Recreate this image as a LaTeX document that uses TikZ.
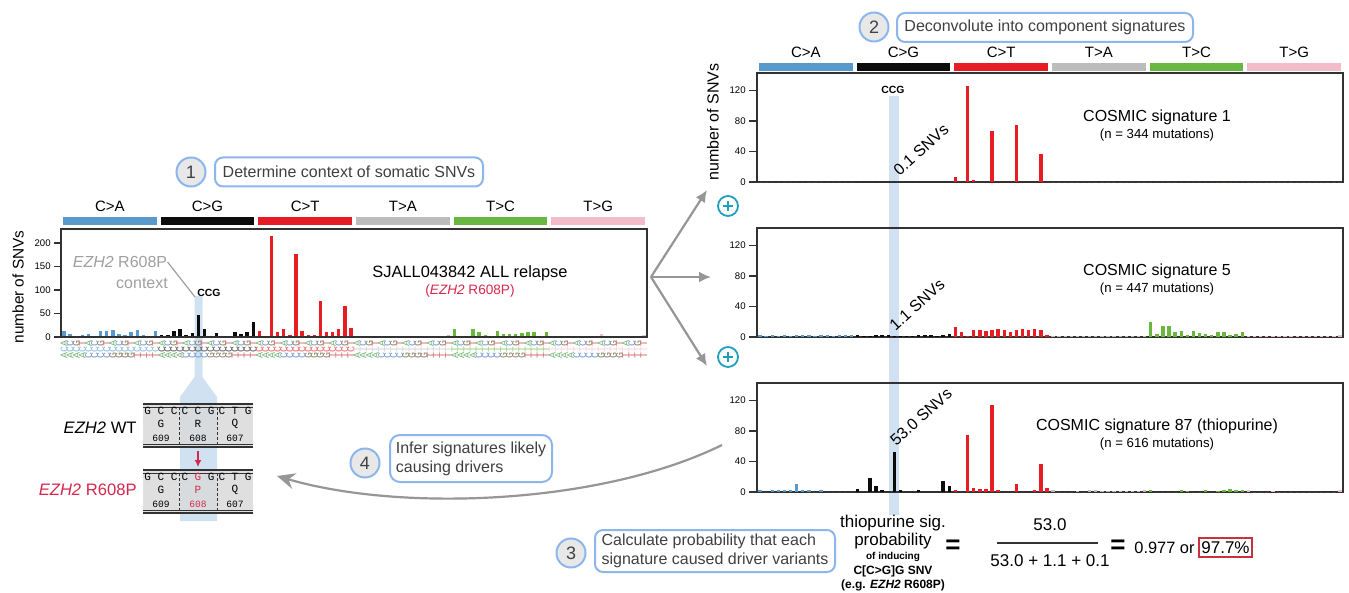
\documentclass[tikz,border=0pt]{standalone}
\usepackage{fontspec}
\setmainfont{Liberation Sans}
\newfontfamily\monof{Liberation Mono}
\usetikzlibrary{arrows.meta}
\definecolor{cat0}{RGB}{88,154,204}
\definecolor{cat1}{RGB}{12,12,12}
\definecolor{cat2}{RGB}{232,28,36}
\definecolor{cat3}{RGB}{188,188,188}
\definecolor{cat4}{RGB}{104,184,64}
\definecolor{cat5}{RGB}{242,188,200}
\definecolor{nt0}{RGB}{60,150,60}
\definecolor{nt1}{RGB}{60,110,190}
\definecolor{nt2}{RGB}{90,80,40}
\definecolor{nt3}{RGB}{200,50,50}
\definecolor{stepblue}{RGB}{140,182,236}
\definecolor{stepgrey}{RGB}{232,232,232}
\definecolor{txtgrey}{RGB}{64,64,64}
\definecolor{bandblue}{RGB}{208,226,241}
\definecolor{mutred}{RGB}{214,40,78}
\definecolor{arrowgrey}{RGB}{150,150,150}
\definecolor{plusteal}{RGB}{32,160,190}
\definecolor{annogrey}{RGB}{160,160,160}
\definecolor{seqgrey}{RGB}{218,218,218}
\definecolor{boxdark}{RGB}{50,50,50}
\definecolor{pctred}{RGB}{200,50,60}
\newcommand\myfs[1]{\fontsize{#1}{#1}\selectfont}
\newcommand\bname[1]{\ifcase#1 A\or C\or G\or T\fi}
% #1 x0, #2 baseline, #3 px per unit, #4 data
\newcommand\drawbars[4]{%
  \foreach \v [count=\i from 0] in {#4}{%
    \pgfmathtruncatemacro\catn{\i/16}%
    \pgfmathsetmacro\xc{#1+(\i+0.5)*6.104}%
    \fill[cat\catn] ({\xc-1.7},{#2}) rectangle ({\xc+1.7},{#2-\v*#3});%
  }}
\newcommand\catbars[2]{% #1 x0, #2 top y
  \foreach \lab [count=\k from 0] in {C>A,C>G,C>T,T>A,T>C,T>G}{%
    \pgfmathsetmacro\xa{#1+\k*97.67+2}%
    \pgfmathsetmacro\xb{#1+(\k+1)*97.67-2}%
    \fill[cat\k] (\xa,#2) rectangle (\xb,#2+8);%
    \node[catlab] (cl#1\k) at ({(\xa+\xb)/2},#2-11) {\lab};%
  }}
\newcommand\sigpanel[3]{% #1 top y, #2 name, #3 data
  \draw[boxline] (757,#1) rectangle (1343,#1+109);
  \foreach \t in {0,40,80,120}{%
    \draw[boxline] (749,{#1+109-\t*0.764}) -- (757,{#1+109-\t*0.764});
    \node[ticklab] (#2t\t) at (746,{#1+109-\t*0.764}) {\t};}
  \drawbars{757}{#1+109}{0.764}{#3}}
\begin{document}
\begin{tikzpicture}[x=0.5pt,y=-0.5pt,
  stepcirc/.style={circle,draw=stepblue,line width=1pt,fill=stepgrey,minimum size=14.5pt,inner sep=0pt,font=\myfs{9},text=txtgrey},
  stepbox/.style={draw=stepblue,line width=1pt,rounded corners=4pt,fill=white,text=txtgrey,font=\fontsize{8}{9.6}\selectfont,inner sep=0pt,align=left},
  catlab/.style={font=\myfs{7.5},inner sep=0pt},
  ticklab/.style={font=\myfs{4.8},anchor=east,inner sep=0pt},
  axislab/.style={font=\myfs{7.7},rotate=90,inner sep=0pt},
  sigtitle/.style={font=\myfs{8},inner sep=0pt},
  sigsub/.style={font=\myfs{6.6},inner sep=0pt},
  snvlab/.style={font=\myfs{8},rotate=42,inner sep=0pt},
  boxline/.style={draw=boxdark,line width=0.75pt},
  grayarrow/.style={draw=arrowgrey,line width=1.1pt,-{Latex[length=6pt,width=5.5pt]}},
  trilab/.style={font=\monof\myfs{5},rotate=90,anchor=east,inner sep=0pt},
  seqtxt/.style={font=\monof\myfs{5.5},inner sep=0pt},
  plain/.style={inner sep=0pt}]
\useasboundingbox (0,0) rectangle (1349,593);
\fill[white] (0,0) rectangle (1349,593);

% ---------------- Step 1 -----------------
\node[stepcirc] (s1) at (191,172) {1};
\node[stepbox,minimum width=134pt,minimum height=14.5pt] (b1) at (349,172) {Determine context of somatic SNVs};

% ---------------- left chart -----------------
\fill[bandblue] (194.5,296) -- (202.5,296) -- (202.5,377) -- (217,397) -- (217,521) -- (180,521) -- (180,397) -- (194.5,377) -- cycle;
\catbars{61}{217}
\drawbars{61}{337}{0.47}{12,6,2,5,6,3,12,12,15,6,5,10,14,5,2,12,
 5,5,13,16,4,8,46,18,1,8,3,1,10,6,10,31,
 12,3,214,10,16,5,177,12,5,4,76,11,11,18,67,19,
 2,1,2,1,2,1,2,1,2,1,1,2,3,2,3,5,
 16,3,2,16,10,5,2,12,6,6,6,8,10,10,2,10,
 3,1,1,1,3,1,1,2,6,2,1,1,2,1,1,5}
\draw[boxline] (61,229) rectangle (647,337);
\foreach \t in {0,50,100,150,200}{%
  \draw[boxline] (54,{337-\t*0.47}) -- (61,{337-\t*0.47});
  \node[ticklab] (lt\t) at (51,{337-\t*0.47}) {\t};}
\node[axislab] (lyl) at (18,287) {number of SNVs};
\foreach \i in {0,...,95}{%
  \pgfmathtruncatemacro\catn{\i/16}%
  \pgfmathtruncatemacro\fb{mod(\i,16)/4}%
  \pgfmathtruncatemacro\tb{mod(\i,4)}%
  \pgfmathsetmacro\xc{61+(\i+0.5)*6.104}%
  \node[trilab] (tri\i) at (\xc,340) {\textcolor{nt\fb!70}{\bname{\fb}}\textcolor{cat\catn!65}{\ifnum\catn<3 C\else T\fi}\textcolor{nt\tb!70}{\bname{\tb}}};}
\node[sigtitle,font=\myfs{8.2}] (ltitle) at (470,273) {SJALL043842 ALL relapse};
\node[plain,font=\myfs{6.8},text=mutred] (lsub) at (470,291) {(\textit{EZH2} R608P)};
\node[plain,font=\myfs{8},text=annogrey] (ezhann) at (120,262) {\textit{EZH2} R608P};
\node[plain,font=\myfs{8},text=annogrey] (ctxann) at (142,283) {context};
\node[plain,font=\bfseries\myfs{5.2}] (lccg) at (209,293) {CCG};
\coordinate (ccgpt) at (195,297);
\draw[annogrey,line width=0.6pt] (ezhann.east) -- (ccgpt);

% ---------------- EZH2 sequences -----------------
\fill[seqgrey,opacity=0.85] (143,404) rectangle (253,447);
\fill[seqgrey,opacity=0.85] (143,470) rectangle (253,513);
\foreach \yt in {404,470}{%
  \draw[boxdark,line width=1pt] (143,\yt) -- (253,\yt);
  \draw[boxdark,line width=0.35pt] (143,\yt+3) -- (253,\yt+3);
  \draw[boxdark,line width=1pt] (143,\yt+43) -- (253,\yt+43);
  \draw[boxdark,line width=0.35pt] (143,\yt+40) -- (253,\yt+40);
  \draw[boxdark,dashed,line width=0.4pt,dash pattern=on 1.5pt off 1pt] (179,\yt+3) -- (179,\yt+40);
  \draw[boxdark,dashed,line width=0.4pt,dash pattern=on 1.5pt off 1pt] (217,\yt+3) -- (217,\yt+40);}
\node[seqtxt] (w1) at (161,411) {G C C};
\node[seqtxt] (w2) at (198,411) {C C G};
\node[seqtxt] (w3) at (235,411) {C T G};
\node[seqtxt] (w4) at (161,424) {G};
\node[seqtxt] (w5) at (198,424) {R};
\node[seqtxt] (w6) at (235,424) {Q};
\node[seqtxt,font=\monof\myfs{4.8}] (w7) at (161,438) {609};
\node[seqtxt,font=\monof\myfs{4.8}] (w8) at (198,438) {608};
\node[seqtxt,font=\monof\myfs{4.8}] (w9) at (235,438) {607};
\node[seqtxt] (m1) at (161,477) {G C C};
\node[seqtxt] (m2) at (198,477) {C \textcolor{mutred}{G} G};
\node[seqtxt] (m3) at (235,477) {C T G};
\node[seqtxt] (m4) at (161,490) {G};
\node[seqtxt,text=mutred] (m5) at (198,490) {P};
\node[seqtxt] (m6) at (235,490) {Q};
\node[seqtxt,font=\monof\myfs{4.8}] (m7) at (161,504) {609};
\node[seqtxt,font=\monof\myfs{4.8},text=mutred] (m8) at (198,504) {608};
\node[seqtxt,font=\monof\myfs{4.8}] (m9) at (235,504) {607};
\coordinate (ra) at (198,451);
\coordinate (rb) at (198,467);
\draw[mutred,line width=0.7pt,-{Latex[length=3.5pt,width=3.5pt]}] (ra) -- (rb);
\node[plain,anchor=east,font=\myfs{8.3}] (wtlab) at (137,428) {\textit{EZH2} WT};
\node[plain,anchor=east,font=\myfs{8.3},text=mutred] (mulab) at (137,490) {\textit{EZH2} R608P};

% ---------------- arrows left -> right -----------------
\coordinate (lsrc) at (651,277);
\coordinate (ta1) at (707,190);
\coordinate (ta2) at (711,277);
\coordinate (ta3) at (707,366);
\draw[grayarrow] (lsrc) -- (ta1);
\draw[grayarrow] (lsrc) -- (ta2);
\draw[grayarrow] (lsrc) -- (ta3);

% ---------------- Step 2 -----------------
\node[stepcirc] (s2) at (874,27) {2};
\node[stepbox,minimum width=148pt,minimum height=14.5pt] (b2) at (1045,27.5) {Deconvolute into component signatures};

% ---------------- right panels -----------------
\fill[bandblue] (889,96) rectangle (899,515);
\catbars{757}{63}
\sigpanel{73}{pa}{0,0,0,0,0,0,0,0,0,0,0,0,0,0,0,0,
 0,0,0,0,0,0,0,0,0,0,0,0,0,0,0,0,
 7,0,125,2,0,0,67,0,0,0,75,0,0,0,37,0,
 0,0,0,0,0,0,0,0,0,0,0,0,0,0,0,0,
 0,0,0,0,0,0,0,0,0,0,0,0,0,0,0,0,
 0,0,0,0,0,0,0,0,0,0,0,0,0,0,0,0}
\sigpanel{228}{pb}{2,1,2,1,2,1,2,3,2,1,2,2,1,2,2,3,
 3,1,1,3,2,2,1,1,1,1,2,2,2,1,3,4,
 13,7,1,9,9,8,9,10,9,7,9,10,9,10,9,2,
 1,1,1,1,1,1,1,1,1,1,1,1,1,1,1,1,
 19,4,15,15,6,8,3,8,5,4,3,6,6,3,4,7,
 1,1,1,1,1,1,1,1,1,1,1,1,1,1,1,3}
\sigpanel{383}{pc}{3,0,2,2,3,2,11,3,2,0,2,0,0,0,0,0,
 4,0,18,8,3,0,53,3,0,0,2,0,0,0,15,8,
 3,0,75,5,4,4,114,2,0,0,11,0,0,2,36,5,
 3,0,0,0,1,0,2,2,1,1,1,1,1,1,1,2,
 3,0,0,0,0,2,1,0,0,3,0,1,2,4,2,2,
 2,0,0,0,1,0,0,0,0,0,0,0,0,0,0,2}
\node[axislab,font=\myfs{8}] (ryl) at (713,122) {number of SNVs};
\node[plain,font=\bfseries\myfs{5.2}] (rccg) at (893,90) {CCG};
\node[snvlab] (snva) at (921,150) {0.1 SNVs};
\node[snvlab] (snvb) at (917,305) {1.1 SNVs};
\node[snvlab] (snvc) at (921,417) {53.0 SNVs};
\node[sigtitle] (ta) at (1157,117) {COSMIC signature 1};
\node[sigsub] (sa) at (1157,135) {(n = 344 mutations)};
\node[sigtitle] (tb) at (1157,271) {COSMIC signature 5};
\node[sigsub] (sb) at (1157,289) {(n = 447 mutations)};
\node[sigtitle] (tc) at (1157,426) {COSMIC signature 87 (thiopurine)};
\node[sigsub] (sc) at (1157,444) {(n = 616 mutations)};

% plus signs
\foreach \py/\pn in {206/p1,357/p2}{%
  \node[circle,draw=plusteal,line width=0.9pt,minimum size=10pt,inner sep=0pt] (\pn) at (728,\py) {};
  \draw[plusteal,line width=0.9pt] (\pn.center) +(-5,0) -- +(5,0);
  \draw[plusteal,line width=0.9pt] (\pn.center) +(0,-5) -- +(0,5);}

% ---------------- Step 4 -----------------
\node[stepcirc] (s4) at (365,463) {4};
\node[stepbox,minimum width=81pt,minimum height=23.5pt,rounded corners=5pt] (b4) at (471,458.5) {Infer signatures likely\\causing drivers};
\coordinate (c4s) at (722,445);
\coordinate (c4e) at (277,476);
\draw[arrowgrey,line width=1.1pt,-{Stealth[length=9pt,width=8pt,inset=3pt]}] (c4s) .. controls (600,505) and (400,512) .. (c4e);

% ---------------- Step 3 and formula -----------------
\node[stepcirc] (s3) at (571,553) {3};
\node[stepbox,minimum width=120pt,minimum height=21pt] (b3) at (715,551) {Calculate probability that each\\signature caused driver variants};
\node[plain,font=\myfs{8.5}] (f1) at (893,523) {thiopurine sig.};
\node[plain,font=\myfs{8.5}] (f2) at (893,541) {probability};
\node[plain,font=\bfseries\myfs{5}] (f3) at (893,557) {of inducing};
\node[plain,font=\bfseries\myfs{6}] (f4) at (893,571) {C[C>G]G SNV};
\node[plain,font=\bfseries\myfs{6}] (f5) at (893,585) {(e.g. \textit{EZH2} R608P)};
\node[plain,font=\bfseries\myfs{13}] (eq1) at (953,547) {=};
\node[plain,font=\myfs{8.5}] (num) at (1050,525) {53.0};
\coordinate (fl) at (997,543);
\coordinate (fr) at (1098,543);
\draw[boxdark,line width=0.7pt] (fl) -- (fr);
\node[plain,font=\myfs{8.5}] (den) at (1050,561) {53.0 + 1.1 + 0.1};
\node[plain,font=\bfseries\myfs{13}] (eq2) at (1118,547) {=};
\node[plain,font=\myfs{8.2},anchor=west] (res) at (1134,548) {0.977 or};
\node[plain,font=\myfs{8.5},draw=pctred,line width=0.7pt,minimum width=26.5pt,minimum height=9.5pt] (pct) at (1225.5,547.5) {97.7\%};
\end{tikzpicture}
\end{document}
